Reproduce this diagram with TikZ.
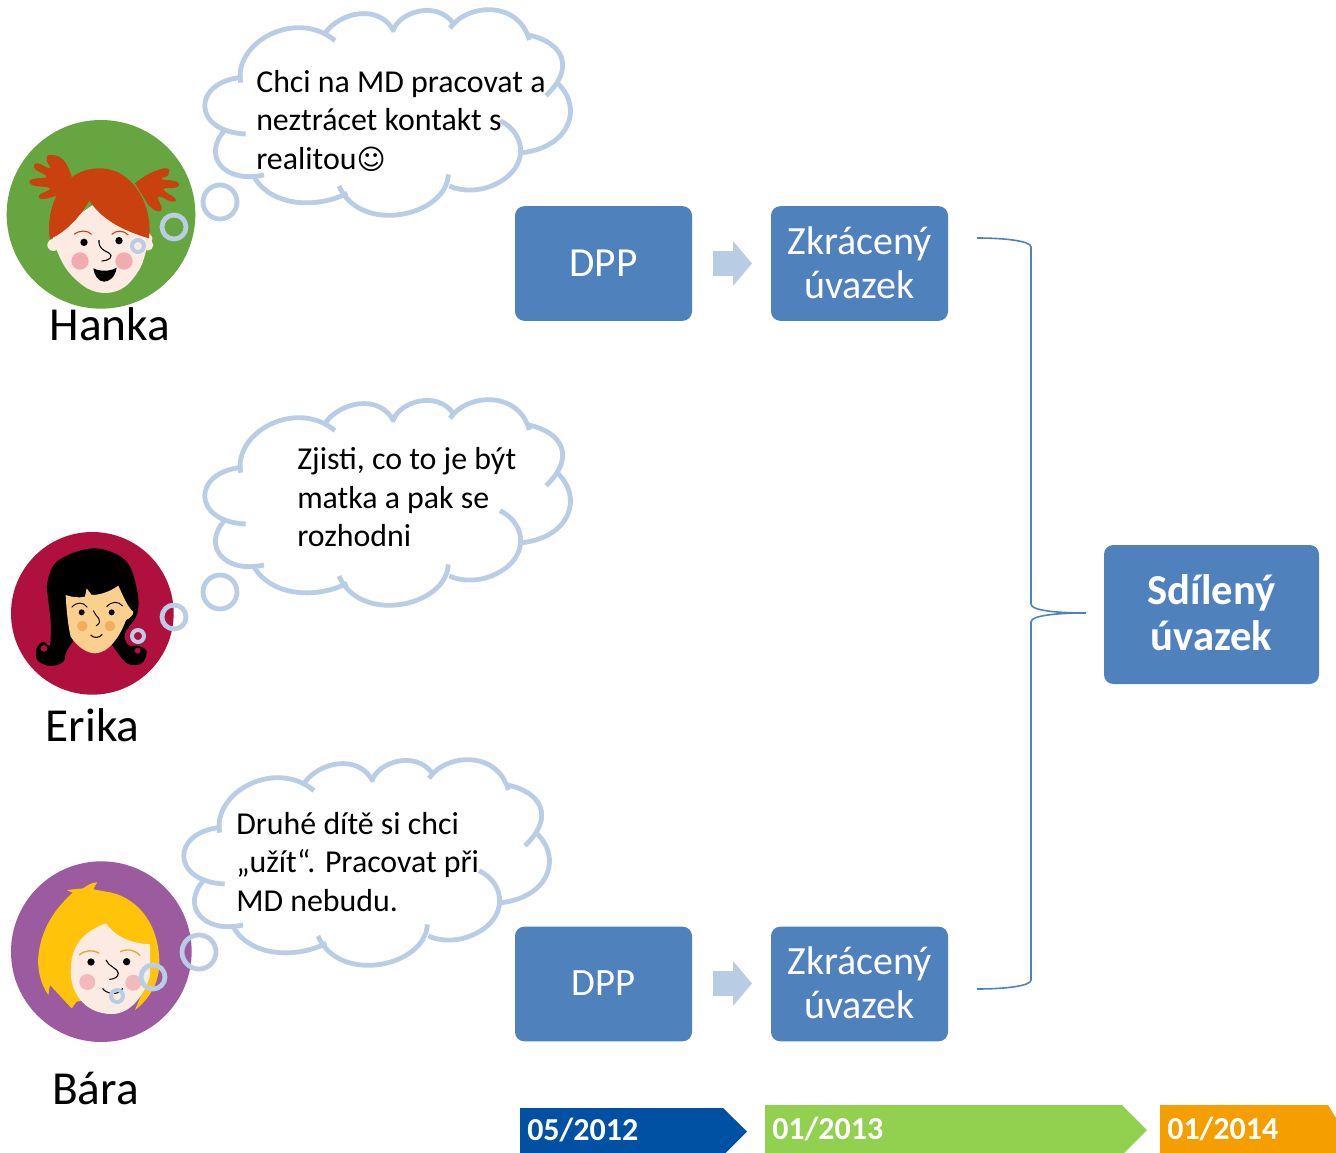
\documentclass[tikz,border=0pt]{standalone}
\usepackage{fontspec}
\setmainfont{Carlito}
\newfontfamily\symfont{DejaVu Sans}
\definecolor{cloudc}{HTML}{B9CDE5}
\definecolor{boxc}{HTML}{4F81BD}
\definecolor{arrowc}{HTML}{B8CCE4}
\definecolor{hankabg}{HTML}{66A53F}
\definecolor{hankahair}{HTML}{C8410E}
\definecolor{skin}{HTML}{FBEBE3}
\definecolor{hankacheek}{HTML}{F2ABAE}
\definecolor{erikabg}{HTML}{B0103E}
\definecolor{erikaskin}{HTML}{FBD08F}
\definecolor{erikacheek}{HTML}{F0AE5E}
\definecolor{barabg}{HTML}{9B5B9E}
\definecolor{barahair}{HTML}{FFC40A}
\definecolor{baracheek}{HTML}{F4B9BC}
\definecolor{barabrow}{HTML}{E8A532}
\definecolor{dblue}{HTML}{0051A3}
\definecolor{dgreen}{HTML}{92D050}
\definecolor{dorange}{HTML}{F59E00}
\tikzset{
  cloudline/.style={draw=cloudc,line width=3.6pt,line cap=butt},
  ring/.style={draw=cloudc,line width=3.6pt},
  smallring/.style={draw=cloudc,line width=3pt},
  bluebox/.style={fill=boxc,rounded corners=7pt,text=white,align=center,inner sep=0pt,font=\fontsize{30}{33}\selectfont},
  boxtext/.style={text=white,align=center,inner sep=0pt,font=\fontsize{30}{33}\selectfont},
  speech/.style={anchor=west,align=left,inner sep=0pt,font=\fontsize{23.9}{28.9}\selectfont},
  person/.style={inner sep=0pt,font=\fontsize{35.5}{40}\selectfont},
  datetext/.style={anchor=west,inner sep=0pt,text=white,font=\fontsize{24}{28}\bfseries\selectfont},
  bracket/.style={draw=boxc,line width=1.2pt},
  sm/.style={smooth,tension=0.8}
}
\newcommand{\cloudoutline}{%
  \draw[cloudline] (152,248) .. controls (130,125) and (320,25) .. (435,122);
  \draw[cloudline] (405,100) .. controls (450,35) and (570,10) .. (612,95);
  \draw[cloudline] (608,95) .. controls (625,35) and (740,0) .. (790,70);
  \draw[cloudline] (780,85) .. controls (830,10) and (985,0) .. (1018,120);
  \draw[cloudline] (1015,105) .. controls (1115,125) and (1160,200) .. (1068,287);
  \draw[cloudline] (1098,245) .. controls (1182,320) and (1142,440) .. (998,458);
  \draw[cloudline] (930,362) .. controls (1010,400) and (1020,505) .. (915,553) .. controls (870,575) and (815,575) .. (778,558);
  \draw[cloudline] (775,523) .. controls (770,650) and (510,705) .. (447,558);
  \draw[cloudline] (472,580) .. controls (370,630) and (240,615) .. (192,530);
  \draw[cloudline] (222,525) .. controls (100,552) and (35,465) .. (105,390);
  \draw[cloudline] (167,402) .. controls (5,395) and (5,245) .. (157,232);
}
\begin{document}
\begin{tikzpicture}[x=.75pt,y=-.75pt]
\useasboundingbox (0,0) rectangle (1336,1153);

% ---- Hanka avatar
\begin{scope}[shift={(0,100)},x=.25pt,y=-.25pt]
  \fill[hankabg] (303,343) circle (283);
  \fill[skin] (160,435) circle (18);
  \fill[skin] (443,435) circle (17);
  \fill[skin] plot[smooth,tension=.6] coordinates {(155,400)(172,455)(205,515)(262,565)(320,579)(375,560)(420,505)(440,445)(448,400)(300,300)} -- cycle;
  \fill[hankahair] plot[sm] coordinates {(215,230)(190,180)(150,165)(140,180)(150,205)(112,190)(105,207)(140,230)(95,238)(97,255)(150,265)(118,285)(130,297)(175,285)} -- cycle;
  \fill[hankahair] plot[sm] coordinates {(405,250)(450,220)(500,205)(505,225)(485,237)(530,245)(530,262)(490,268)(525,295)(515,305)(475,290)(485,325)(470,333)(445,315)} -- cycle;
  \fill[hankahair] (150,417) .. controls (135,340) and (175,205) .. (300,205)
     .. controls (400,205) and (460,320) .. (447,415)
     .. controls (380,395) and (310,365) .. (268,302)
     .. controls (240,350) and (200,395) .. (150,417) -- cycle;
  \draw[hankahair,line width=.8pt] (222,403) .. controls (240,390) and (260,390) .. (275,403);
  \draw[hankahair,line width=.8pt] (335,403) .. controls (350,390) and (370,390) .. (385,405);
  \fill (252,427) circle (11);
  \fill (357,422) circle (11);
  \draw[line width=.8pt] (297,420) .. controls (295,445) and (310,450) .. (325,458) .. controls (345,470) and (325,483) .. (305,483);
  \fill[hankacheek] (240,483) circle (26);
  \fill[hankacheek] (372,483) circle (26);
  \fill (280,505) .. controls (300,515) and (330,515) .. (350,503) .. controls (345,535) and (325,545) .. (312,545) .. controls (295,545) and (282,525) .. (280,505) -- cycle;
\end{scope}

% ---- Erika avatar
\begin{scope}[shift={(0,520)},x=.25pt,y=-.25pt]
  \fill[erikabg] (277,280) circle (244);
  \fill plot[smooth,tension=.6] coordinates {(140,200)(170,125)(280,85)(375,120)(410,205)(412,280)(375,340)(385,375)(418,378)(440,395)(425,430)(385,432)(350,395)(280,300)(205,385)(190,425)(150,438)(112,420)(110,385)(130,365)(150,375)(152,300)};
  \fill[erikabg] (132,385) circle (10);
  \fill[erikabg] (413,392) circle (9);
  \fill[erikaskin] (197,225) .. controls (200,280) and (205,320) .. (212,350)
     .. controls (235,385) and (265,400) .. (285,400)
     .. controls (325,400) and (360,350) .. (378,300)
     .. controls (390,295) and (400,285) .. (400,275)
     .. controls (385,265) and (370,230) .. (355,197)
     .. controls (330,215) and (300,225) .. (275,225) -- (260,205) -- (255,230)
     .. controls (235,235) and (210,230) .. (197,225) -- cycle;
  \draw[line width=.7pt] (215,262) .. controls (230,245) and (250,245) .. (262,262);
  \draw[line width=.7pt] (320,260) .. controls (335,243) and (355,243) .. (368,258);
  \fill (245,277) circle (9);
  \fill (335,277) circle (9);
  \draw[line width=.7pt] (280,272) .. controls (285,290) and (315,300) .. (288,318);
  \fill[erikacheek] (247,318) circle (16);
  \fill[erikacheek] (330,318) circle (16);
  \draw[line width=.8pt] (272,345) .. controls (280,355) and (298,355) .. (307,343);
\end{scope}

% ---- Bara avatar
\begin{scope}[shift={(0,850)},x=.25pt,y=-.25pt]
  \fill[barabg] (304,305) circle (271);
  \fill[barahair] (200,120) -- (250,115) .. controls (262,105) and (275,98) .. (291,97)
     -- (280,118) -- (318,125) .. controls (400,135) and (478,210) .. (478,340)
     .. controls (478,400) and (445,450) .. (405,480) -- (430,420) -- (230,455) -- (215,475)
     -- (150,405) -- (145,435) .. controls (120,400) and (110,350) .. (116,310)
     .. controls (125,240) and (160,180) .. (218,128) -- cycle;
  \fill[skin] (318,220) .. controls (260,240) and (215,280) .. (213,350)
     .. controls (205,420) and (250,492) .. (335,492)
     .. controls (390,492) and (430,440) .. (450,380)
     -- (450,283) .. controls (400,280) and (350,265) .. (318,220) -- cycle;
  \draw[barabrow,line width=1pt] (238,315) .. controls (255,300) and (280,298) .. (298,310);
  \draw[barabrow,line width=1pt] (360,305) .. controls (385,295) and (405,300) .. (420,317);
  \fill (273,336) circle (11);
  \fill (380,335) circle (11);
  \draw[line width=.8pt] (318,330) .. controls (325,350) and (355,355) .. (355,370) .. controls (355,382) and (340,388) .. (328,388);
  \fill[baracheek] (262,396) circle (24);
  \fill[baracheek] (400,398) circle (24);
  \draw[line width=.8pt] (308,415) .. controls (315,430) and (355,440) .. (368,415);
\end{scope}

% ---- Thought bubbles
\begin{scope}[shift={(190,0)},x=.25pt,y=-.25pt]\cloudoutline\end{scope}
\begin{scope}[shift={(190,390)},x=.25pt,y=-.25pt]\cloudoutline\end{scope}
\begin{scope}[shift={(169,750)},x=.25pt,y=-.25pt]\cloudoutline\end{scope}
\draw[ring] (220,202) circle (17);
\draw[ring] (174,227) circle (12);
\draw[smallring] (138,246) circle (6);
\draw[ring] (220,592) circle (17);
\draw[ring] (174,617) circle (12);
\draw[smallring] (138,636) circle (6);
\draw[ring] (199,952) circle (17);
\draw[ring] (153,977) circle (12);
\draw[smallring] (117,996) circle (6);

% ---- Speech texts
\node[speech] (t1) at (256,120.8) {Chci na MD pracovat a\\neztrácet kontakt s\\realitou{\symfont\fontsize{21}{21}\selectfont ☺}};
\node[speech] (t2) at (297,497.5) {Zjisti, co to je být\\matka a pak se\\rozhodni};
\node[speech] (t3) at (236,862) {Druhé dítě si chci\\„užít“. Pracovat při\\MD nebudu.};

% ---- Names
\node[person] (hanka) at (110,324) {Hanka};
\node[person] (erika) at (92.5,725) {Erika};
\node[person] (bara) at (95.5,1088) {Bára};

% ---- Boxes
\node[bluebox,minimum width=132.75pt,minimum height=86pt,font=\fontsize{31}{33}\selectfont] (dpp1) at (603.5,263.5) {DPP};
\node[bluebox,minimum width=132.75pt,minimum height=86pt] (zk1) at (859.5,263.5) {};
\node[boxtext] (zk1t) at ([yshift=.75pt]zk1.center) {Zkrácený\\úvazek};
\node[bluebox,minimum width=132.75pt,minimum height=86pt] (dpp2) at (603.5,984) {};
\node[boxtext,font=\fontsize{29}{33}\selectfont] (dpp2t) at ([yshift=.75pt]dpp2.center) {DPP};
\node[bluebox,minimum width=132.75pt,minimum height=86pt] (zk2) at (859.5,984) {};
\node[boxtext] (zk2t) at ([yshift=.75pt]zk2.center) {Zkrácený\\úvazek};
\node[bluebox,minimum width=161.25pt,minimum height=104.25pt] (sdil) at (1211.5,614.5) {};
\node[boxtext,font=\fontsize{32}{34.5}\bfseries\selectfont] (sdilt) at ([yshift=1.1pt]sdil.center) {Sdílený\\úvazek};

% ---- Block arrows
\fill[arrowc] (713,251) -- (733,251) -- (733,241) -- (752,263.5) -- (733,286) -- (733,276) -- (713,276) -- cycle;
\fill[arrowc] (713,971) -- (733,971) -- (733,961) -- (752,983.5) -- (733,1006) -- (733,996) -- (713,996) -- cycle;

% ---- Bracket
\coordinate (btop) at (977,238);
\coordinate (bbot) at (977,989);
\draw[bracket] (btop) .. controls (1005,238) and (1031,241) .. (1031,247)
  -- (1031,604) .. controls (1031,611) and (1060,613) .. (1086,613)
  .. controls (1060,613) and (1031,615) .. (1031,622)
  -- (1031,980) .. controls (1031,986) and (1005,989) .. (bbot);

% ---- Timeline
\fill[dblue] (520,1108) -- (723,1108) -- (747,1131.5) -- (725.5,1153) -- (520,1153) -- cycle;
\fill[dgreen] (765,1105) -- (1122,1105) -- (1147,1130) -- (1124,1153) -- (765,1153) -- cycle;
\fill[dorange] (1160,1105) -- (1328,1105) -- (1336,1118) -- (1336,1153) -- (1160,1153) -- cycle;
\node[datetext] (d1) at (527,1130) {05/2012};
\node[datetext] (d2) at (772,1129) {01/2013};
\node[datetext] (d3) at (1167,1129) {01/2014};
\end{tikzpicture}
\end{document}
